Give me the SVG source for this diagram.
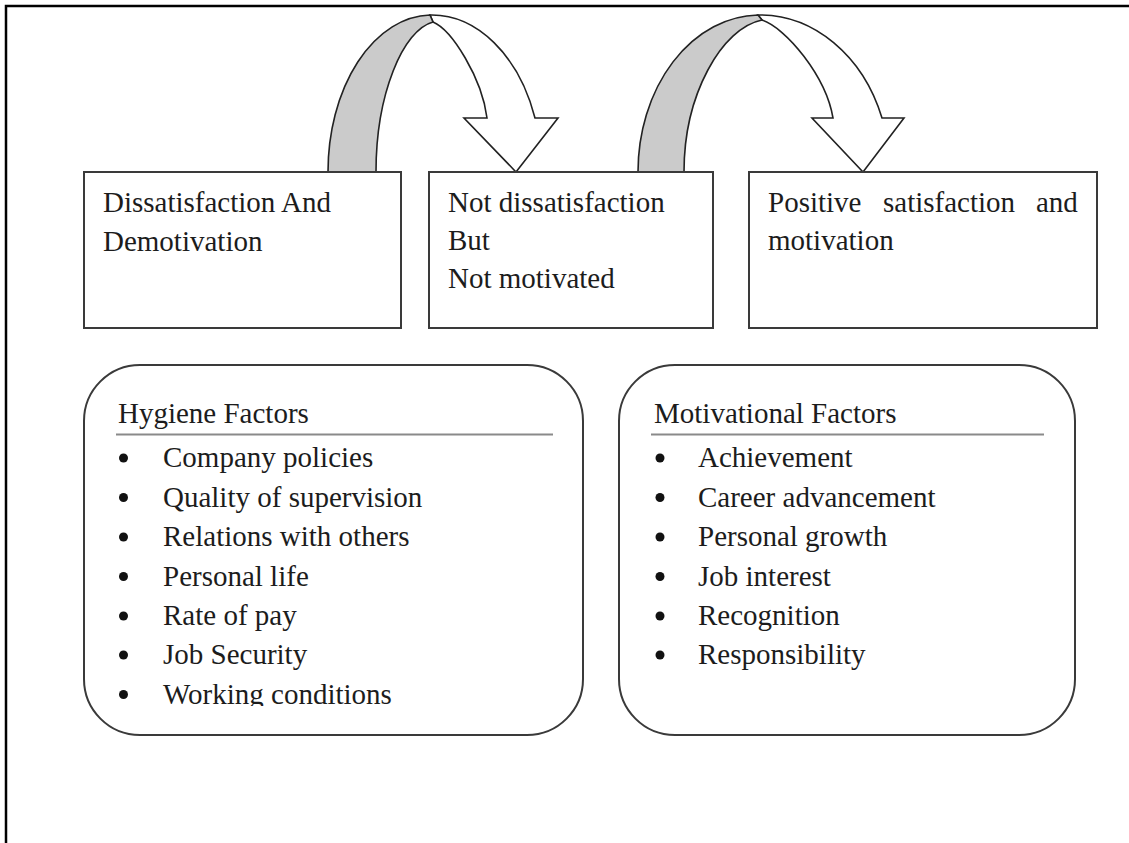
<svg xmlns="http://www.w3.org/2000/svg" width="1129" height="843" viewBox="0 0 1129 843">
<style>
text{font-family:"Liberation Serif","Times New Roman",serif;font-size:29px;fill:#1c1c1c}
.box{fill:#fff;stroke:#3a3a3a;stroke-width:2}
.rbox{fill:#fff;stroke:#3a3a3a;stroke-width:2}
.rule{stroke:#8a8a8a;stroke-width:2}
.arr{fill:#fff;stroke:#222;stroke-width:1.6;stroke-linejoin:miter}
.band{fill:#cbcbcb;stroke:#222;stroke-width:1.6}
.dot{fill:#111}
</style>
<defs>
<clipPath id="clipH"><rect x="84" y="365" width="500" height="341"/></clipPath>
</defs>
<rect width="1129" height="843" fill="#fff"/>
<path d="M6,843 V6 H1129" fill="none" stroke="#000" stroke-width="2.5"/>

<g id="connectors">
<g id="arrow1">
<path class="arr" d="M430,15 A110,157 0 0 1 535,118 L558,118 L516,172 L464,118 L487,118 C482,78 452,30 433,22 Z"/>
<path class="band" d="M328,172 A104,157 0 0 1 430,15 L433,22 C403,30 376,94 376,172 Z"/>
</g>
<g id="arrow2">
<path class="arr" d="M758,15 A130,157 0 0 1 882,118 L904,118 L863,172 L812,118 L833,118 C826,76 786,28 762,20 Z"/>
<path class="band" d="M638,172 A122,157 0 0 1 758,15 L762,20 C722,28 684,94 684,172 Z"/>
</g>
</g>

<g id="node-dissatisfaction">
<rect class="box" x="84" y="172" width="317" height="156"/>
<text x="103" y="212">Dissatisfaction And</text>
<text x="103" y="251">Demotivation</text>
</g>

<g id="node-not-dissatisfaction">
<rect class="box" x="429" y="172" width="284" height="156"/>
<text x="448" y="212">Not dissatisfaction</text>
<text x="448" y="250">But</text>
<text x="448" y="288">Not motivated</text>
</g>

<g id="node-positive">
<rect class="box" x="749" y="172" width="348" height="156"/>
<text x="768" y="212">Positive</text>
<text x="883" y="212">satisfaction</text>
<text x="1036" y="212">and</text>
<text x="768" y="250">motivation</text>
</g>

<g id="node-hygiene">
<rect class="rbox" x="84" y="365" width="499" height="370" rx="56" ry="56"/>
<text x="118" y="423">Hygiene Factors</text>
<line class="rule" x1="116" y1="434.5" x2="553" y2="434.5"/>
<g clip-path="url(#clipH)">
<circle class="dot" cx="123.5" cy="458" r="4.5"/><text x="163" y="467">Company policies</text>
<circle class="dot" cx="123.5" cy="497.5" r="4.5"/><text x="163" y="506.5">Quality of supervision</text>
<circle class="dot" cx="123.5" cy="537" r="4.5"/><text x="163" y="546">Relations with others</text>
<circle class="dot" cx="123.5" cy="576.5" r="4.5"/><text x="163" y="585.5">Personal life</text>
<circle class="dot" cx="123.5" cy="616" r="4.5"/><text x="163" y="625">Rate of pay</text>
<circle class="dot" cx="123.5" cy="655" r="4.5"/><text x="163" y="664">Job Security</text>
<circle class="dot" cx="123.5" cy="694.5" r="4.5"/><text x="163" y="703.5">Working conditions</text>
</g>
</g>

<g id="node-motivational">
<rect class="rbox" x="619" y="365" width="456" height="370" rx="56" ry="56"/>
<text x="654" y="423">Motivational Factors</text>
<line class="rule" x1="651" y1="434.5" x2="1044" y2="434.5"/>
<circle class="dot" cx="660" cy="458" r="4.5"/><text x="698" y="467">Achievement</text>
<circle class="dot" cx="660" cy="497.5" r="4.5"/><text x="698" y="506.5">Career advancement</text>
<circle class="dot" cx="660" cy="537" r="4.5"/><text x="698" y="546">Personal growth</text>
<circle class="dot" cx="660" cy="576.5" r="4.5"/><text x="698" y="585.5">Job interest</text>
<circle class="dot" cx="660" cy="616" r="4.5"/><text x="698" y="625">Recognition</text>
<circle class="dot" cx="660" cy="655" r="4.5"/><text x="698" y="664">Responsibility</text>
</g>
</svg>
